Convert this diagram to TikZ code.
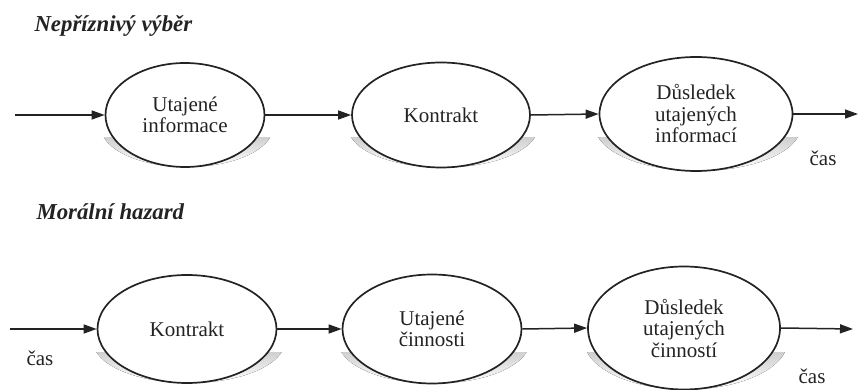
\documentclass[tikz,border=0pt]{standalone}
\usepackage{fontspec}
\setmainfont{Liberation Serif}
\usetikzlibrary{shapes.geometric,arrows.meta,calc}
\definecolor{ink}{RGB}{35,35,35}
\definecolor{shade}{RGB}{150,150,165}
\begin{document}
\begin{tikzpicture}[x=1pt,y=-1pt,
  oval/.style={ellipse,draw=ink,fill=white,line width=1.7pt,inner sep=0pt,align=center,
    font=\fontsize{21}{21.5}\selectfont,text=ink},
  flow/.style={draw=ink,line width=1.5pt,-{Triangle[length=13pt,width=9pt]}},
  lbl/.style={anchor=base,font=\fontsize{21}{21.5}\selectfont,text=ink},
  ttl/.style={anchor=base west,font=\fontsize{22.8}{23}\selectfont\bfseries\itshape,text=ink}]
\useasboundingbox (0,0) rectangle (859,390);
% shadows (lower part, peeking out below the left and right of each ellipse)
\begin{scope}\clip (0,138) rectangle (859,200);
\fill[shade] (187,127) ellipse (86 and 40);
\fill[shade] (443,127) ellipse (95 and 40.5);
\fill[shade] (698,126) ellipse (103 and 45);
\end{scope}
\begin{scope}\clip (0,352) rectangle (859,390);
\fill[shade] (189,341) ellipse (96 and 42);
\fill[shade] (434,341) ellipse (96 and 42.5);
\fill[shade] (686,340) ellipse (102 and 49.5);
\end{scope}
% titles
\node[ttl] (t1) at (31,32) {Nepříznivý výběr};
\node[ttl] (t2) at (33,219) {Morální hazard};
% top row
\node[oval,minimum width=159,minimum height=104] (a1) at (185,115) {Utajené\\informace};
\node[oval,minimum width=178,minimum height=105] (a2) at (441,115) {Kontrakt};
\node[oval,minimum width=193,minimum height=114] (a3) at (696,114) {Důsledek\\utajených\\informací};
\coordinate (ain) at (15,115);
\coordinate (aout) at (858,114);
\draw[flow] (ain) -- (a1.west);
\draw[flow] (a1.east) -- (a2.west);
\draw[flow] (a2.east) -- (a3.west);
\draw[flow] (a3.east) -- (aout);
\node[lbl] (c1) at (823,166) {čas};
% bottom row
\node[oval,minimum width=179,minimum height=108] (b1) at (187,329) {Kontrakt};
\node[oval,minimum width=179,minimum height=109] (b2) at (432,329) {Utajené\\činnosti};
\node[oval,minimum width=192,minimum height=123] (b3) at (684,328) {Důsledek\\utajených\\činností};
\coordinate (bin) at (10,329);
\coordinate (bout) at (853,329);
\draw[flow] (bin) -- (b1.west);
\draw[flow] (b1.east) -- (b2.west);
\draw[flow] (b2.east) -- (b3.west);
\draw[flow] (b3.east) -- (bout);
\node[lbl] (c2) at (40,365) {čas};
\node[lbl] (c3) at (812,383) {čas};
\end{tikzpicture}
\end{document}
